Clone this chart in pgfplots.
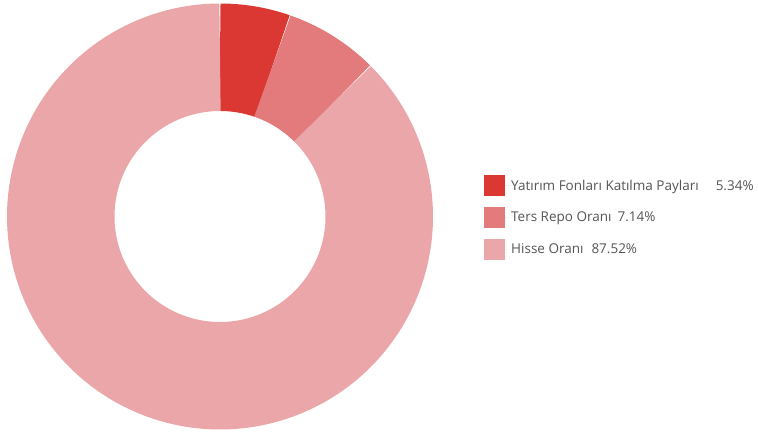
\documentclass[border=0pt]{standalone}
\usepackage{pgfplots}
\pgfplotsset{compat=1.18}
\usepackage{fontspec}
\setmainfont{Open Sans}
\definecolor{c1}{RGB}{219,56,52}
\definecolor{c2}{RGB}{227,122,124}
\definecolor{c3}{RGB}{234,166,168}
\definecolor{textgray}{RGB}{85,85,85}
\begin{document}
\begin{tikzpicture}
\begin{axis}[
  width=758pt, height=436pt, scale only axis,
  xmin=0, xmax=758, ymin=0, ymax=436,
  hide axis, clip=false,
  legend style={at={(axis cs:484,261)}, anchor=north west, draw=none, fill=none,
    inner sep=0pt, row sep=11pt, font=\fontsize{13.5}{15.5}\selectfont, text=textgray,
    cells={anchor=west}},
  legend image code/.code={\fill[#1, draw=none] (0pt,-10.5pt) rectangle (21pt,10.5pt);
    \path (0pt,0pt) -- (25pt,0pt);},
]
\path (axis cs:0,0) rectangle (axis cs:758,436);
% values in percent: 5.34, 7.14, 87.52 (cumulative 0, 5.34, 12.48, 100)
\addplot[forget plot, color=c1, line width=107.5pt, domain=0:5.34, samples=20]
  ({220+159.25*sin(3.6*x)}, {219.5+159.25*cos(3.6*x)});
\addplot[forget plot, color=c2, line width=107.5pt, domain=5.34:12.48, samples=25]
  ({220+159.25*sin(3.6*x)}, {219.5+159.25*cos(3.6*x)});
\addplot[forget plot, color=c3, line width=107.5pt, domain=12.48:100, samples=250]
  ({220+159.25*sin(3.6*x)}, {219.5+159.25*cos(3.6*x)});
\addlegendimage{fill=c1, draw=none}
\addlegendentry{Yatırım Fonları Katılma Payları\hspace{17pt}5.34\%}
\addlegendimage{fill=c2, draw=none}
\addlegendentry{Ters Repo Oranı\hspace{6pt}7.14\%}
\addlegendimage{fill=c3, draw=none}
\addlegendentry{Hisse Oranı\hspace{8pt}87.52\%}
\end{axis}
\end{tikzpicture}
\end{document}
